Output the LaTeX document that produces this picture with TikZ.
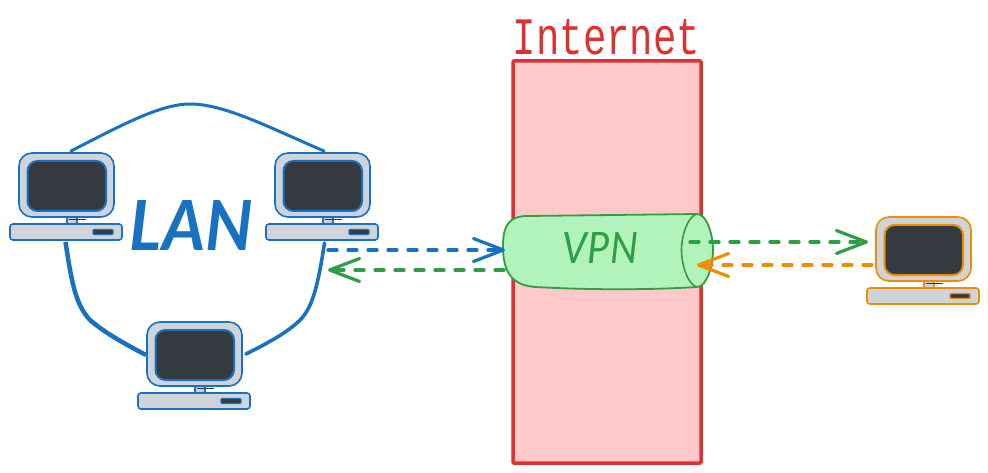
\documentclass[tikz,border=0pt]{standalone}
\usepackage{graphicx}
\usepackage{fontspec}
\usetikzlibrary{arrows.meta}
\setmainfont{DejaVu Sans}
\newfontfamily\handfont{Liberation Mono}
\newfontfamily\slantfont{Lato}
\definecolor{cblue}{HTML}{1971C2}
\definecolor{cred}{HTML}{E03131}
\definecolor{cgreen}{HTML}{2F9E44}
\definecolor{corange}{HTML}{F08C00}
\definecolor{cpink}{HTML}{FFC9C9}
\definecolor{clgreen}{HTML}{B2F2BB}
\definecolor{cgray}{HTML}{CED4DA}
\definecolor{cdark}{HTML}{343A40}
\tikzset{
  x=1pt,y=-1pt,
  pics/computer/.style={code={
    \draw[draw=#1,fill=cgray,line width=1.6pt,rounded corners=2pt] (48,64) rectangle (58,71);
    \draw[draw=cdark,line width=1.5pt] (50,66.5) -- (67,66.5);
    \draw[draw=#1,fill=cgray,line width=1.6pt,rounded corners=13pt] (0,0) rectangle (95,64);
    \draw[draw=#1,fill=cdark,line width=2pt,rounded corners=10pt] (8.5,8) rectangle (87,58);
    \draw[draw=#1,fill=cgray,line width=1.6pt,rounded corners=3pt] (-9,71) rectangle (103,87);
    \draw[draw=#1,fill=cdark,line width=1.4pt,rounded corners=1pt] (74,76.5) rectangle (94,81.5);
  }},
  link/.style={cblue,line width=3pt,line cap=round},
  flow/.style={line width=3.2pt,dash pattern=on 9pt off 11pt,line cap=round,
    -{Straight Barb[length=30pt,width=23pt,line width=3.2pt,round]}},
  hand/.style={inner sep=0pt,outer sep=0pt}
}
\begin{document}
\begin{tikzpicture}
\useasboundingbox (0,0) rectangle (988,473);
% Internet column
\draw[cred,fill=cpink,line width=3.5pt,rounded corners=1pt] (513,61) rectangle (701,463);
\node[hand,text=cred] (internet) at (606.5,37.5) {\resizebox{187pt}{35pt}{\handfont Internet}};
% Computers
\pic (pcA) at (19,153) {computer=cblue};
\pic (pcB) at (275,153) {computer=cblue};
\pic (pcC) at (147,322) {computer=cblue};
\pic (pcD) at (876,217) {computer=corange};
% LAN label
\node[hand,text=cblue] (lan) at (191.5,225) {\resizebox{123pt}{50pt}{\slantfont\bfseries\itshape LAN}};
% Link end points
\coordinate (aTop) at (71,151);
\coordinate (bTop) at (324,151);
\coordinate (apex) at (190,104);
\coordinate (aLow) at (65.5,242);
\coordinate (cLeft) at (146,355);
\coordinate (bLow) at (324.5,243);
\coordinate (cRight) at (246,354);
% LAN links
\draw[link] (aTop) .. controls (120,126) and (160,104) .. (apex) .. controls (225,104) and (270,128) .. (bTop);
\draw[link,line width=4.5pt,line cap=butt] (aLow) .. controls (72,285) and (76,305) .. (90,320) .. controls (105,333) and (125,344) .. (cLeft);
\draw[link,line width=3.6pt] (bLow) .. controls (318,285) and (313,305) .. (302,318) .. controls (290,331) and (270,342) .. (cRight);
% VPN tunnel
\draw[cgreen,fill=clgreen,line width=1.8pt]
  (697,214) -- (528,216) .. controls (510,216) and (503,224) .. (503,246)
  .. controls (503,270) and (510,285) .. (535,287) .. controls (590,290) and (650,290) .. (697,287)
  .. controls (707,287) and (713,265) .. (713,250) .. controls (713,235) and (707,214) .. (697,214) -- cycle;
\draw[cgreen,line width=1.6pt] (697,214) .. controls (688,216) and (681.5,235) .. (681.5,250) .. controls (681.5,265) and (688,285) .. (697,287);
\node[hand,text=cgreen] (vpn) at (600.5,247.5) {\resizebox{75pt}{31pt}{\slantfont\itshape VPN}};
% Flow end points
\coordinate (bOut) at (328,250);
\coordinate (vIn) at (505,250);
\coordinate (vBack) at (504,270);
\coordinate (bIn) at (328,270);
\coordinate (vOut) at (690,242);
\coordinate (dIn) at (868,242);
\coordinate (dOut) at (872,265);
\coordinate (vRet) at (697,265);
% Flows
\draw[flow,cgreen] (vBack) -- (bIn);
\draw[flow,cblue] (bOut) -- (vIn);
\draw[flow,cgreen] (vOut) -- (dIn);
\draw[flow,corange] (dOut) -- (vRet);
\end{tikzpicture}
\end{document}
